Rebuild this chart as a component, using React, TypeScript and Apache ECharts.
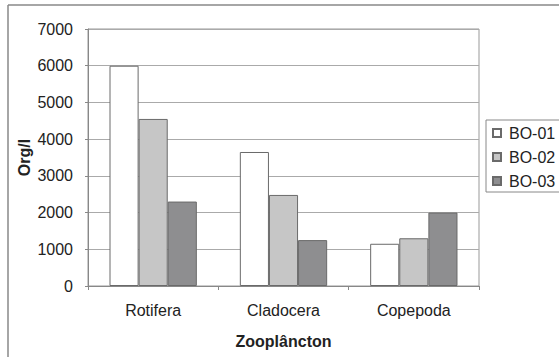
import React, { useEffect, useRef } from "react";
import * as echarts from "echarts";

const categories = ["Rotifera", "Cladocera", "Copepoda"];
const seriesNames = ["BO-01", "BO-02", "BO-03"];
const bo01 = [6000, 3650, 1150];
const bo02 = [4550, 2480, 1300];
const bo03 = [2300, 1250, 2000];
const seriesColors = ["#ffffff", "#c6c6c6", "#8e8e90"];

export default function App() {
  const ref = useRef<HTMLDivElement>(null);
  useEffect(() => {
    document.body.style.margin = "0";
    const chart = echarts.init(ref.current!, null, { renderer: "svg" });
    const values = [bo01, bo02, bo03];
    const font = "Liberation Sans";
    chart.setOption({
      animation: false,
      backgroundColor: "#ffffff",
      textStyle: { fontFamily: font },
      grid: {
        left: 88,
        top: 29,
        width: 391,
        height: 257,
        show: true,
        borderColor: "#999999",
        borderWidth: 1,
        containLabel: false,
      },
      legend: {
        orient: "vertical",
        left: 492,
        top: 124,
        padding: 0,
        itemWidth: 8,
        itemHeight: 8,
        itemGap: 6,
        icon: "rect",
        data: seriesNames,
        textStyle: {
          fontFamily: font,
          fontSize: 16,
          color: "#222222",
          lineHeight: 18,
          padding: [0, 0, 0, 3],
        },
      },
      xAxis: {
        type: "category",
        data: categories,
        name: "Zooplâncton",
        nameLocation: "middle",
        nameGap: 47,
        nameMoveOverlap: false,
        nameTextStyle: { fontFamily: font, fontSize: 16, fontWeight: "bold", color: "#222222", verticalAlign: "top" },
        axisLine: { show: true, lineStyle: { color: "#888888", width: 1 } },
        axisTick: { show: true, length: 4, interval: 0, alignWithLabel: false, lineStyle: { color: "#888888" } },
        axisLabel: { fontFamily: font, fontSize: 16, color: "#222222", margin: 16 },
        splitLine: { show: false },
      },
      yAxis: {
        type: "value",
        min: 0,
        max: 7000,
        interval: 1000,
        name: "Org/l",
        nameLocation: "middle",
        nameGap: 56,
        nameRotate: 90,
        nameMoveOverlap: false,
        nameTextStyle: { fontFamily: font, fontSize: 16, fontWeight: "bold", color: "#222222", verticalAlign: "bottom" },
        axisLine: { show: true, lineStyle: { color: "#888888", width: 1 } },
        axisTick: { show: true, length: 3, lineStyle: { color: "#888888" } },
        axisLabel: { fontFamily: font, fontSize: 16, color: "#222222", margin: 15, formatter: (v: number) => String(v) },
        splitLine: { show: true, lineStyle: { color: "#aaaaaa", width: 1 } },
      },
      graphic: [
        { type: "line", shape: { x1: 8, y1: 5, x2: 8, y2: 400 }, style: { stroke: "#888888", lineWidth: 1.5 } },
        { type: "line", shape: { x1: 8, y1: 5, x2: 600, y2: 5 }, style: { stroke: "#888888", lineWidth: 1.5 } },
        { type: "rect", shape: { x: 486, y: 120, width: 120, height: 72 }, style: { fill: "none", stroke: "#888888", lineWidth: 1 } },
      ],
      series: seriesNames.map((name, i) => ({
        name,
        type: "bar",
        data: values[i],
        barGap: "0%",
        barCategoryGap: "33%",
        itemStyle: { color: seriesColors[i], borderColor: "#6a6a6a", borderWidth: 1 },
      })),
    });
    return () => chart.dispose();
  }, []);
  return <div ref={ref} style={{ width: 559, height: 357 }} />;
}
